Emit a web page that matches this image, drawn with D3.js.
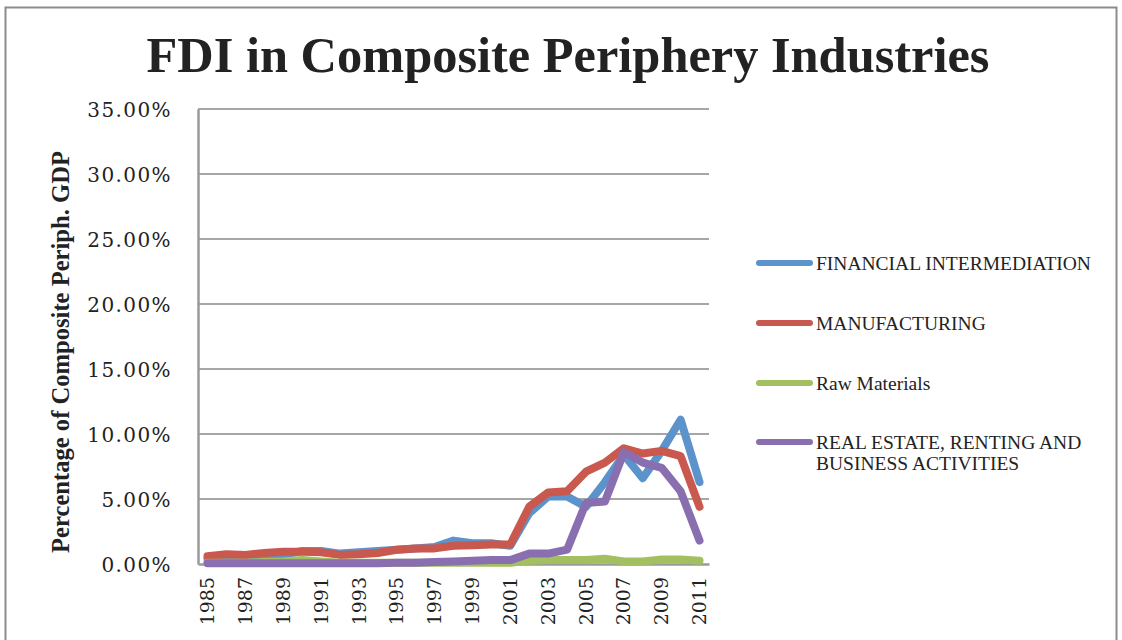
<!doctype html>
<html>
<head>
<meta charset="utf-8">
<title>FDI in Composite Periphery Industries</title>
<style>
  body { margin: 0; background: #fff; }
  text { font-family: "Liberation Serif", "DejaVu Serif", serif; fill: #222; }
</style>
</head>
<body>
<div id="here"></div>
<script src="https://d3js.org/d3.v7.min.js"></script>
<script>
  // data (share of composite periphery GDP, %)
  var years = d3.range(1985, 2012).map(String);
  var yTicks = [0, 0.05, 0.10, 0.15, 0.20, 0.25, 0.30, 0.35];
  var seriesNames = ["FINANCIAL INTERMEDIATION", "MANUFACTURING", "Raw Materials", "REAL ESTATE, RENTING AND BUSINESS ACTIVITIES"];
  var seriesColors = ["#5b93ca", "#c9584f", "#a2c05f", "#8a6fb0"];

  var financial = [0.4, 0.5, 0.5, 0.6, 0.7, 1.0, 1.0, 0.8, 0.9, 1.0, 1.1, 1.2, 1.3, 1.8, 1.6, 1.6, 1.4, 3.9, 5.2, 5.2, 4.4, 6.3, 8.4, 6.6, 8.7, 11.1, 6.3];
  var manufacturing = [0.6, 0.75, 0.7, 0.85, 0.95, 0.95, 0.9, 0.7, 0.75, 0.85, 1.1, 1.2, 1.2, 1.4, 1.45, 1.5, 1.5, 4.4, 5.5, 5.6, 7.1, 7.8, 8.9, 8.5, 8.7, 8.3, 4.4];
  var rawMaterials = [0.1, 0.1, 0.1, 0.15, 0.2, 0.3, 0.2, 0.1, 0.1, 0.1, 0.1, 0.1, 0.1, 0.1, 0.1, 0.1, 0.1, 0.25, 0.3, 0.3, 0.3, 0.4, 0.2, 0.2, 0.35, 0.35, 0.25];
  var realEstate = [0.05, 0.05, 0.05, 0.05, 0.05, 0.05, 0.05, 0.05, 0.05, 0.05, 0.1, 0.1, 0.15, 0.2, 0.25, 0.3, 0.3, 0.8, 0.8, 1.1, 4.7, 4.8, 8.6, 7.8, 7.4, 5.6, 1.8];

  var allSeries = [financial, manufacturing, rawMaterials, realEstate];

  var W = 1122, H = 640;
  var pLeft = 198, pRight = 709, pTop = 109, pBottom = 564;

  var svg = d3.select("#here").append("svg")
    .attr("width", W)
    .attr("height", H);

  // outer frame of the chart
  svg.append("rect")
    .attr("x", 5.5).attr("y", 7.5)
    .attr("width", 1111).attr("height", 700)
    .attr("fill", "none")
    .attr("stroke", "#8c8c8c")
    .attr("stroke-width", 2);

  var x = d3.scaleBand().domain(years).range([pLeft, pRight]).padding(0);
  var y = d3.scaleLinear().domain([0, 0.35]).range([pBottom, pTop]);

  // gridlines
  svg.append("g")
    .selectAll("line")
    .data(yTicks.slice(1))
    .enter().append("line")
    .attr("x1", pLeft).attr("x2", pRight)
    .attr("y1", function(d) { return y(d); })
    .attr("y2", function(d) { return y(d); })
    .attr("stroke", "#a6a6a6")
    .attr("stroke-width", 2);

  // y axis
  var yAxis = svg.append("g")
    .attr("transform", "translate(" + pLeft + ",0)")
    .call(d3.axisLeft(y).tickValues(yTicks).tickFormat(d3.format(".2%")).tickSize(0).tickPadding(26));
  yAxis.select(".domain").attr("stroke", "#9a9a9a").attr("stroke-width", 2.5);
  yAxis.selectAll("text")
    .style("font-family", "DejaVu Serif, serif")
    .style("font-size", "20px")
    .style("letter-spacing", "1.4px")
    .attr("fill", "#222")
    .attr("dy", "0.35em");

  // x axis
  var xAxis = svg.append("g")
    .attr("transform", "translate(0," + pBottom + ")")
    .call(d3.axisBottom(x).tickValues(years.filter(function(d, i) { return i % 2 === 0; })).tickSize(0));
  xAxis.select(".domain").attr("stroke", "#9a9a9a").attr("stroke-width", 2.5);
  xAxis.selectAll("text")
    .style("font-family", "DejaVu Serif, serif")
    .style("font-size", "19px")
    .attr("fill", "#222")
    .attr("transform", "rotate(-90)")
    .attr("text-anchor", "end")
    .attr("x", -13)
    .attr("y", 0)
    .attr("dy", "0.35em");

  // lines
  var line = d3.line()
    .x(function(d, i) { return x(years[i]) + x.bandwidth() / 2; })
    .y(function(d) { return y(d / 100); })
    .curve(d3.curveLinear);

  svg.append("g")
    .selectAll("path")
    .data(allSeries)
    .enter().append("path")
    .attr("d", line)
    .attr("fill", "none")
    .attr("stroke", function(d, i) { return seriesColors[i]; })
    .attr("stroke-width", 8)
    .attr("stroke-linejoin", "round")
    .attr("stroke-linecap", "round");

  // title
  var title = svg.append("text")
    .attr("x", 568).attr("y", 72)
    .attr("text-anchor", "middle")
    .style("font-weight", "bold")
    .style("font-size", "44px")
    .attr("fill", "#000")
    .text("FDI in Composite Periphery Industries");
  var tw = title.node().getComputedTextLength();
  title.style("font-size", (44 * 843 / tw) + "px");

  // y label
  var ylab = svg.append("text")
    .attr("transform", "translate(69,352) rotate(-90)")
    .attr("text-anchor", "middle")
    .style("font-weight", "bold")
    .style("font-size", "21px")
    .attr("fill", "#111")
    .text("Percentage of Composite Periph. GDP");
  var lw = ylab.node().getComputedTextLength();
  ylab.style("font-size", (21 * 402 / lw) + "px");

  // legend
  var legendY = [263, 323, 383, 442];
  var legend = svg.append("g").selectAll("g")
    .data(seriesNames)
    .enter().append("g")
    .attr("transform", function(d, i) { return "translate(757," + legendY[i] + ")"; });

  legend.append("line")
    .attr("x1", 2).attr("x2", 53)
    .attr("y1", 0).attr("y2", 0)
    .attr("stroke", function(d, i) { return seriesColors[i]; })
    .attr("stroke-width", 6)
    .attr("stroke-linecap", "round");

  legend.append("text")
    .attr("x", 59)
    .attr("y", 0)
    .style("font-size", "19.5px")
    .attr("fill", "#222")
    .each(function(d) {
      var t = d3.select(this);
      var parts = d.indexOf("RENTING AND") >= 0 ? ["REAL ESTATE, RENTING AND", "BUSINESS ACTIVITIES"] : [d];
      parts.forEach(function(p, k) {
        t.append("tspan").attr("x", 59).attr("dy", k === 0 ? "0.35em" : "1.1em").text(p);
      });
    });
</script>
</body>
</html>
